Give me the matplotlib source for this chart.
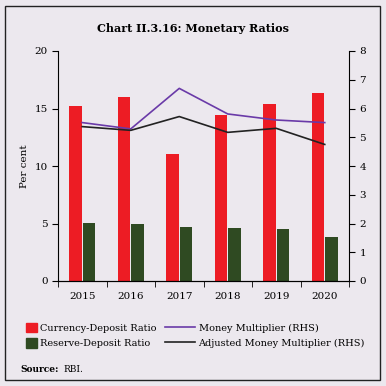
import numpy as np
import matplotlib.pyplot as plt
from matplotlib.patches import Rectangle, Patch
from matplotlib.lines import Line2D

years = ['2015', '2016', '2017', '2018', '2019', '2020']
currency_deposit = [15.2, 16.0, 11.05, 14.4, 15.4, 16.35]
reserve_deposit = [5.05, 4.95, 4.7, 4.6, 4.5, 3.85]
money_mult = [5.51, 5.29, 6.70, 5.81, 5.60, 5.51]
adj_money_mult = [5.37, 5.24, 5.72, 5.17, 5.31, 4.75]

bg = '#ECE8EE'
red = '#ED1C24'
green = '#2F4A22'
purple = '#6A3AA8'

plt.rcParams['font.family'] = 'DejaVu Serif'

fig = plt.figure(figsize=(3.86, 3.86), dpi=100, facecolor=bg)
fig.patches.append(Rectangle((0.013, 0.016), 0.971, 0.969, transform=fig.transFigure,
                             fill=False, edgecolor='#222222', lw=1.0))

ax = fig.add_axes([58 / 386, 1 - 281 / 386, 291 / 386, 230 / 386])
ax.set_facecolor(bg)
x = np.arange(len(years))
w = 0.25
ax.bar(x - 0.14, currency_deposit, w, color=red)
ax.bar(x + 0.14, reserve_deposit, w, color=green)
ax.set_xlim(-0.5, 5.5)
ax.set_ylim(0, 20)
ax.set_yticks([0, 5, 10, 15, 20])
ax.set_xticks(x)
ax.set_xticklabels(years)
ax.set_xticks(np.arange(-0.5, 6, 1), minor=True)
ax.tick_params(axis='x', which='major', length=0, pad=8, labelsize=7.5)
ax.tick_params(axis='x', which='minor', length=4, direction='out')
ax.tick_params(axis='y', labelsize=7.5, length=4)
ax.spines['top'].set_visible(False)
ax.spines['right'].set_visible(False)
ax.set_ylabel('Per cent', fontsize=7.5, labelpad=4)

ax2 = ax.twinx()
ax2.plot(x, money_mult, color=purple, lw=1.2)
ax2.plot(x, adj_money_mult, color='#222222', lw=1.2)
ax2.set_ylim(0, 8)
ax2.set_yticks(range(9))
ax2.tick_params(axis='y', labelsize=7.5, length=4)
ax2.spines['top'].set_visible(False)
ax2.spines['left'].set_visible(False)

fig.text(0.5, 1 - 28 / 386, 'Chart II.3.16: Monetary Ratios', ha='center', va='center',
         fontsize=8, fontweight='bold')

# legend: bars on the left column, lines on the right
leg1 = fig.legend([Patch(color=red), Patch(color=green)],
                  ['Currency-Deposit Ratio', 'Reserve-Deposit Ratio'],
                  loc='center left', bbox_to_anchor=(26 / 386, 1 - 335.5 / 386),
                  frameon=False, fontsize=7, handlelength=1.1, handleheight=1.1,
                  handletextpad=0.35, labelspacing=0.6, borderpad=0, borderaxespad=0)
leg2 = fig.legend([Line2D([], [], color=purple, lw=1.2), Line2D([], [], color='#222222', lw=1.2)],
                  ['Money Multiplier (RHS)', 'Adjusted Money Multiplier (RHS)'],
                  loc='center left', bbox_to_anchor=(165 / 386, 1 - 335.5 / 386),
                  frameon=False, fontsize=7, handlelength=3.1, handleheight=1.1,
                  handletextpad=0.35, labelspacing=0.6, borderpad=0, borderaxespad=0)

fig.text(20 / 386, 1 - 369 / 386, 'Source:', fontsize=6.5, fontweight='bold', va='center')
fig.text(63 / 386, 1 - 369 / 386, 'RBI.', fontsize=6.5, va='center')

fig.savefig('out.png', dpi=100, facecolor=bg)
